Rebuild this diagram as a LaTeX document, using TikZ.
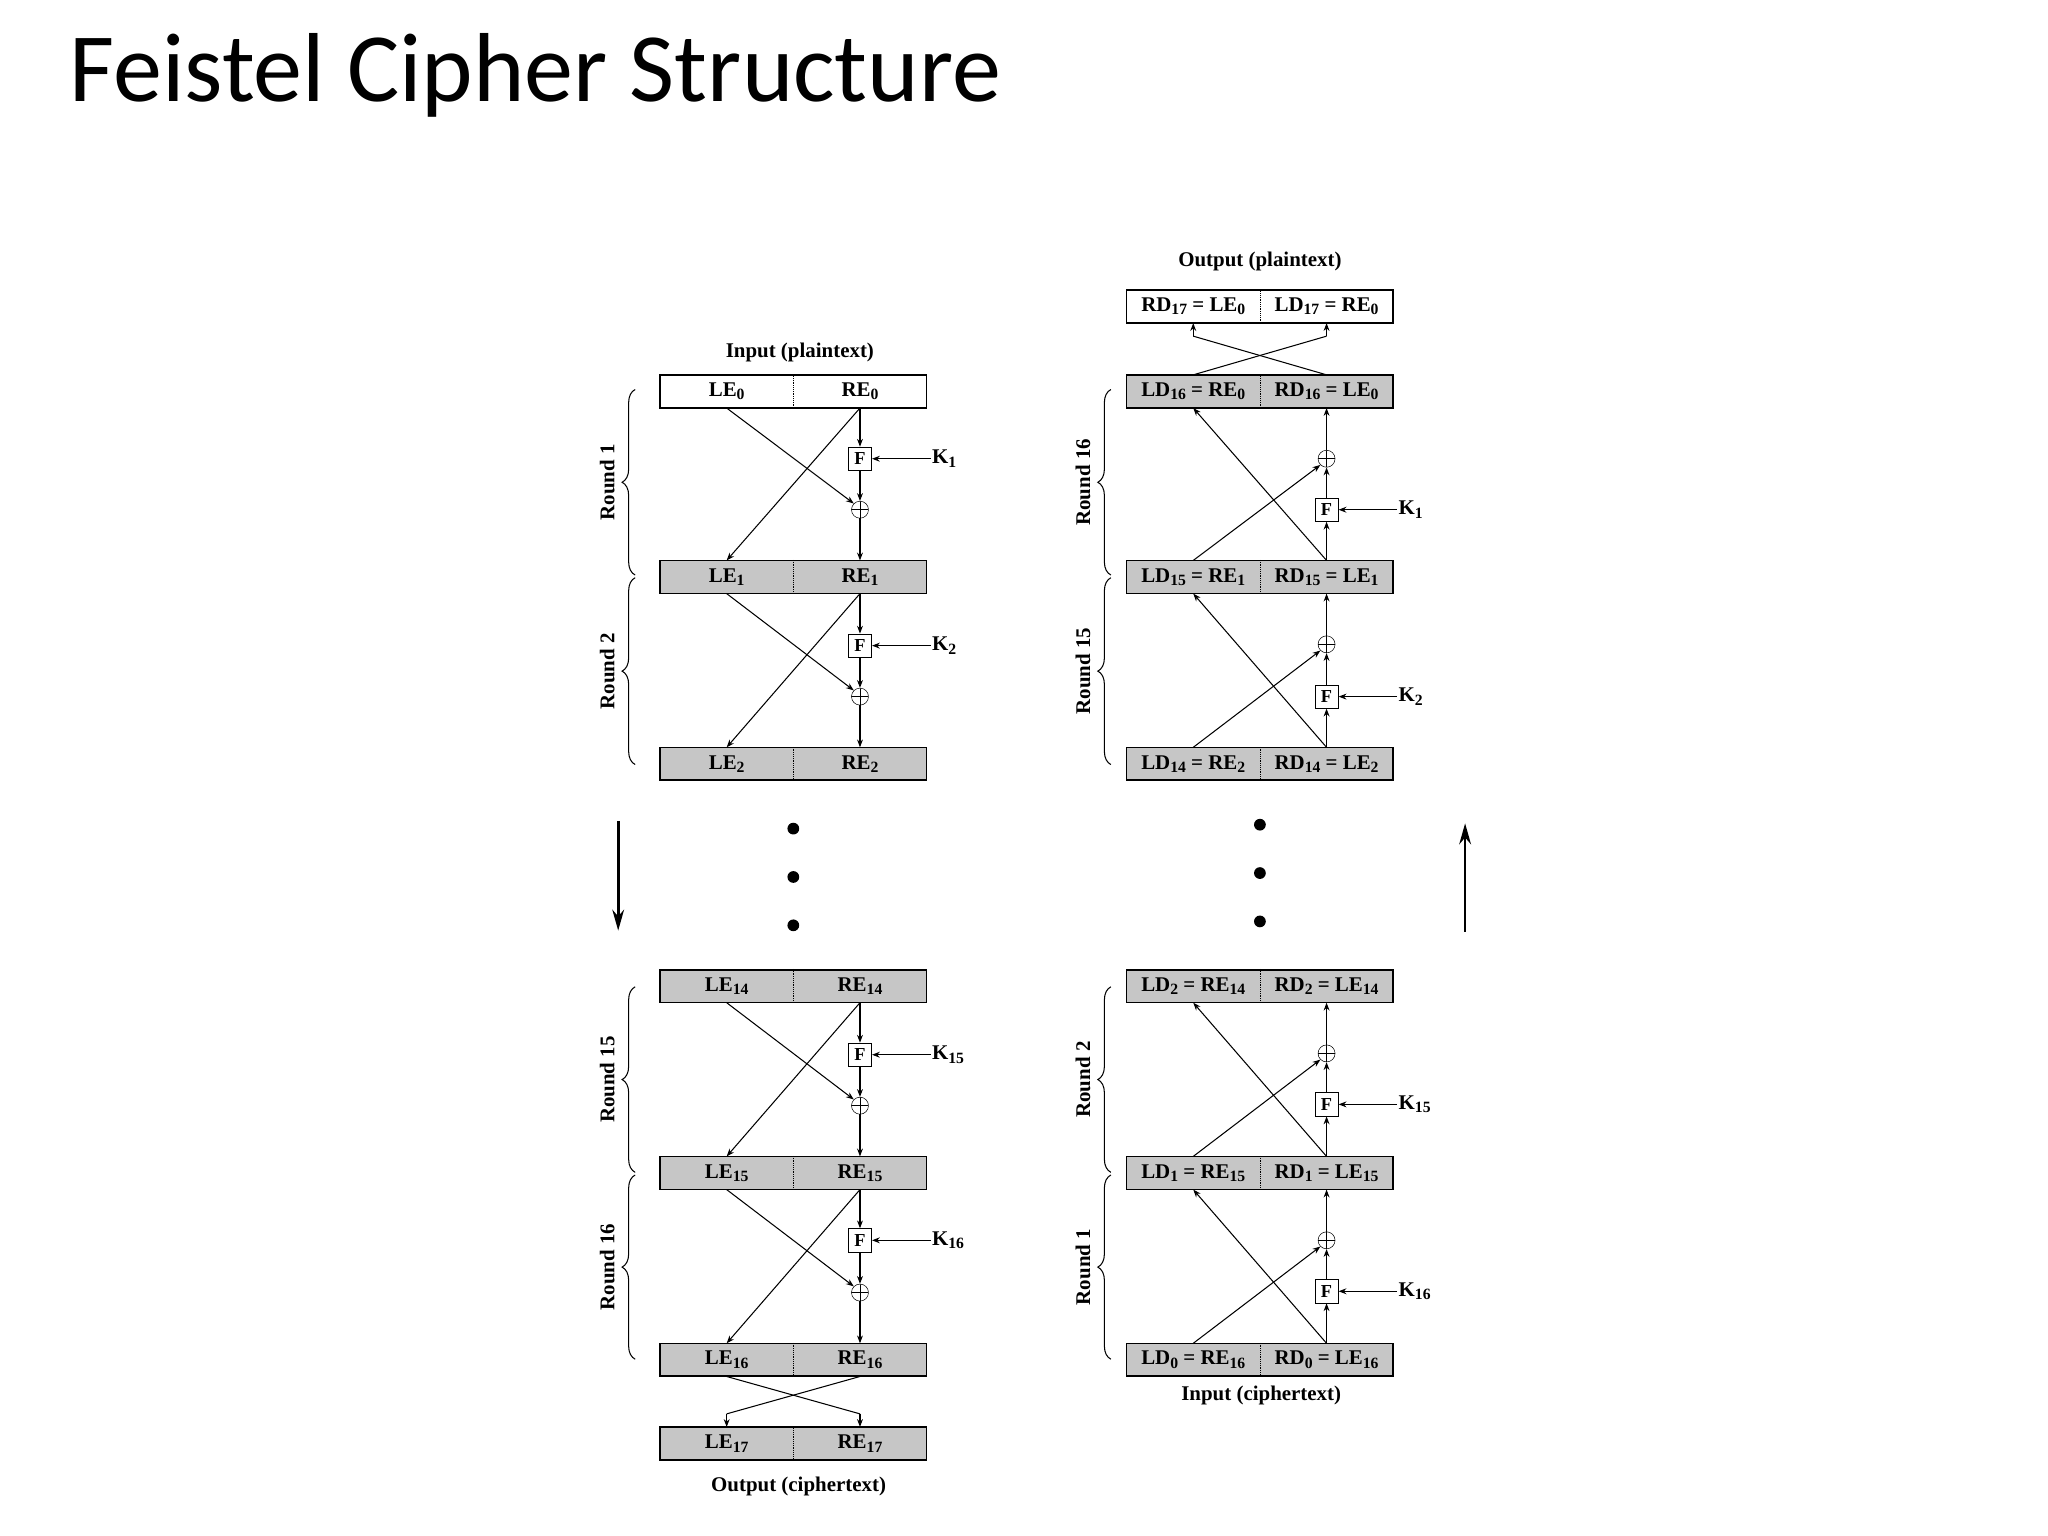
\documentclass[tikz,border=0pt]{standalone}
\usepackage{fontspec}
\setmainfont{Liberation Serif}
\newfontfamily\titlefont{Carlito}
\usetikzlibrary{arrows.meta,decorations.pathreplacing,calc}
\newcommand{\sbx}[1]{\raisebox{-0.35ex}{\fontsize{12}{12}\selectfont #1}}
\newcommand{\cbx}[6]{%
  \node[boxn,fill=#4] (#1) at ({#2},{#3+12.5}) {};
  \node[half] (#1a) at ({#2-51},{#3+12.5}) {#5};
  \node[half] (#1b) at ({#2+51},{#3+12.5}) {#6};
  \draw[densely dotted] (#1.north) -- (#1.south);}
\begin{document}
\begin{tikzpicture}[x=1pt,y=-1pt,
  boxn/.style={draw,line width=1.2pt,minimum width=204pt,minimum height=25pt,inner sep=0pt},
  half/.style={minimum width=102pt,minimum height=25pt,inner sep=0pt,font=\bfseries\fontsize{16}{16}\selectfont},
  fb/.style={draw,fill=white,minimum size=18pt,inner sep=0pt,font=\bfseries\fontsize{14}{14}\selectfont},
  xr/.style={draw,circle,minimum size=13pt,inner sep=0pt,path picture={\draw (path picture bounding box.north)--(path picture bounding box.south) (path picture bounding box.west)--(path picture bounding box.east);}},
  arr/.style={-{Stealth[length=6pt,width=4.5pt]},line width=0.8pt},
  kl/.style={font=\bfseries\fontsize{16}{16}\selectfont,anchor=west,inner sep=1pt},
  lab/.style={font=\bfseries\fontsize{16}{16}\selectfont},
  br/.style={decorate,decoration={brace,amplitude=10pt},line width=0.8pt},
  dot/.style={circle,fill,inner sep=0pt,minimum size=9pt}]
\useasboundingbox (0,0) rectangle (1567,1175);
\node[anchor=west,font=\titlefont\fontsize{75}{75}\selectfont] (title) at (50,58) {Feistel Cipher Structure};
% left column
\cbx{b0}{607}{287}{white}{LE\sbx{0}}{RE\sbx{0}}
\cbx{b1}{607}{429}{gray!45}{LE\sbx{1}}{RE\sbx{1}}
\cbx{b2}{607}{572}{gray!45}{LE\sbx{2}}{RE\sbx{2}}
\cbx{b14}{607}{742}{gray!45}{LE\sbx{14}}{RE\sbx{14}}
\cbx{b15}{607}{885}{gray!45}{LE\sbx{15}}{RE\sbx{15}}
\cbx{b16}{607}{1028}{gray!45}{LE\sbx{16}}{RE\sbx{16}}
\cbx{b17}{607}{1092}{gray!45}{LE\sbx{17}}{RE\sbx{17}}
\node[lab] (inp) at (612,270) {Input (plaintext)};
\node[lab] (outc) at (611,1137) {Output (ciphertext)};
\foreach \u/\l/\fy/\xy/\k in {b0/b1/351/390/1,b1/b2/494/533/2,b14/b15/807/846/15,b15/b16/949/989/16}{
  \node[fb] (F\u) at (658,\fy) {F};
  \node[xr] (X\u) at (658,\xy) {};
  \node[kl] (K\u) at (712,\fy) {K\sbx{\k}};
  \draw[arr] (\u b.south) -- (F\u.north);
  \draw[arr] (F\u.south) -- (X\u.north);
  \draw[arr] (X\u.south) -- (\l b.north);
  \draw[arr] (\u a.south) -- (X\u.135);
  \draw[arr] (\u b.south) -- (\l a.north);
  \draw[arr] (K\u.west) -- (F\u.east);
}
\draw[line width=0.8pt] (b16a.south) -- ($(b17b.north)+(0,-10)$);
\draw[line width=0.8pt] (b16b.south) -- ($(b17a.north)+(0,-10)$);
\draw[arr] ($(b17b.north)+(0,-10)$) -- (b17b.north);
\draw[arr] ($(b17a.north)+(0,-10)$) -- (b17a.north);
\draw[br] (486,440) -- (486,298) node[midway,left=12pt,rotate=90,anchor=south,lab] {Round 1};
\draw[br] (486,585) -- (486,442) node[midway,left=12pt,rotate=90,anchor=south,lab] {Round 2};
\draw[br] (486,897) -- (486,755) node[midway,left=12pt,rotate=90,anchor=south,lab] {Round 15};
\draw[br] (486,1040) -- (486,899) node[midway,left=12pt,rotate=90,anchor=south,lab] {Round 16};
\node[dot] (ld1) at (607,634) {};
\node[dot] (ld2) at (607,671) {};
\node[dot] (ld3) at (607,708) {};
\coordinate (ad1) at (473,628);
\coordinate (ad2) at (473,712);
\draw[-{Stealth[length=16pt,width=9pt]},line width=2pt] (ad1) -- (ad2);
% right column
\cbx{d17}{964}{222}{white}{RD\sbx{17} = LE\sbx{0}}{LD\sbx{17} = RE\sbx{0}}
\cbx{d16}{964}{287}{gray!45}{LD\sbx{16} = RE\sbx{0}}{RD\sbx{16} = LE\sbx{0}}
\cbx{d15}{964}{429}{gray!45}{LD\sbx{15} = RE\sbx{1}}{RD\sbx{15} = LE\sbx{1}}
\cbx{d14}{964}{572}{gray!45}{LD\sbx{14} = RE\sbx{2}}{RD\sbx{14} = LE\sbx{2}}
\cbx{d2}{964}{742}{gray!45}{LD\sbx{2} = RE\sbx{14}}{RD\sbx{2} = LE\sbx{14}}
\cbx{d1}{964}{885}{gray!45}{LD\sbx{1} = RE\sbx{15}}{RD\sbx{1} = LE\sbx{15}}
\cbx{d0}{964}{1028}{gray!45}{LD\sbx{0} = RE\sbx{16}}{RD\sbx{0} = LE\sbx{16}}
\node[lab] (outp) at (964,200) {Output (plaintext)};
\node[lab] (inc) at (965,1068) {Input (ciphertext)};
\foreach \lo/\up/\fy/\xy/\k in {d15/d16/390/351/1,d14/d15/533/493/2,d1/d2/845/806/15,d0/d1/988/949/16}{
  \node[fb] (F\lo) at (1015,\fy) {F};
  \node[xr] (X\lo) at (1015,\xy) {};
  \node[kl] (K\lo) at (1069,\fy) {K\sbx{\k}};
  \draw[arr] (\lo b.north) -- (F\lo.south);
  \draw[arr] (F\lo.north) -- (X\lo.south);
  \draw[arr] (X\lo.north) -- (\up b.south);
  \draw[arr] (\lo a.north) -- (X\lo.225);
  \draw[arr] (\lo b.north) -- (\up a.south);
  \draw[arr] (K\lo.west) -- (F\lo.east);
}
\draw[line width=0.8pt] (d16a.north) -- ($(d17b.south)+(0,10)$);
\draw[line width=0.8pt] (d16b.north) -- ($(d17a.south)+(0,10)$);
\draw[arr] ($(d17b.south)+(0,10)$) -- (d17b.south);
\draw[arr] ($(d17a.south)+(0,10)$) -- (d17a.south);
\draw[br] (850,440) -- (850,298) node[midway,left=12pt,rotate=90,anchor=south,lab] {Round 16};
\draw[br] (850,585) -- (850,442) node[midway,left=12pt,rotate=90,anchor=south,lab] {Round 15};
\draw[br] (850,897) -- (850,755) node[midway,left=12pt,rotate=90,anchor=south,lab] {Round 2};
\draw[br] (850,1040) -- (850,899) node[midway,left=12pt,rotate=90,anchor=south,lab] {Round 1};
\node[dot] (rd1) at (964,631) {};
\node[dot] (rd2) at (964,668) {};
\node[dot] (rd3) at (964,705) {};
\coordinate (au1) at (1121,713);
\coordinate (au2) at (1121,630);
\draw[-{Stealth[length=16pt,width=9pt]},line width=2pt] (au1) -- (au2);
\end{tikzpicture}
\end{document}
